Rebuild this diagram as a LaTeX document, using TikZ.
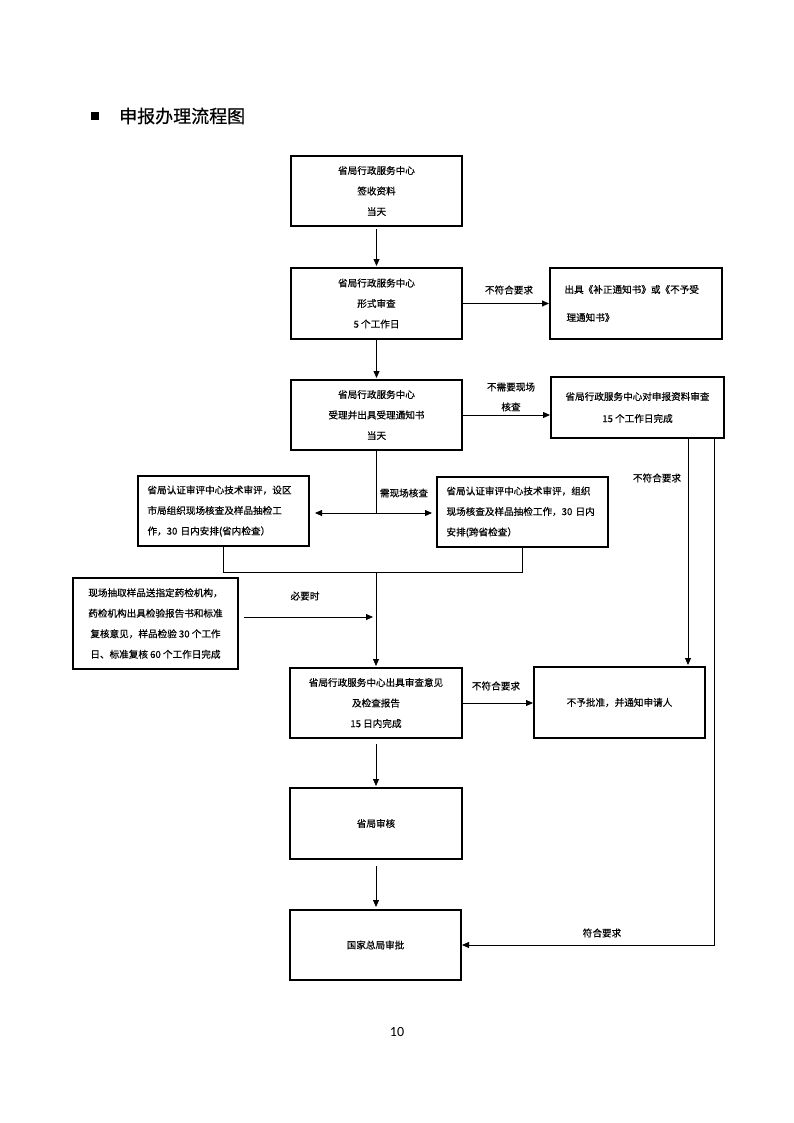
\documentclass[tikz,border=0pt]{standalone}
\usepackage{fontspec}
\setmainfont[FakeBold=0.4]{Noto Sans CJK SC}
\newfontfamily\pgnum{Carlito}
\usetikzlibrary{arrows.meta}
\begin{document}
\begin{tikzpicture}[x=1pt,y=-1pt,
  box/.style={draw, line width=2pt, inner sep=0pt, align=center, font=\fontsize{9.6}{20.5}\selectfont},
  lbl/.style={inner sep=0pt, font=\fontsize{9.6}{20}\selectfont, align=center},
  conn/.style={line width=0.8pt},
  arr/.style={conn, -{Triangle[length=7pt,width=6pt]}}]
\useasboundingbox (0,0) rectangle (794,1123);
\fill[white] (0,0) rectangle (794,1123);
% title
\node[fill=black, minimum size=8pt, inner sep=0pt] (bul) at (95,116) {};
\node[anchor=west, inner sep=0pt, font=\fontsize{18}{18}\selectfont] (title) at (119,116) {申报办理流程图};
% boxes
\node[box, minimum width=171, minimum height=70] (b1) at (376.5,191) {省局行政服务中心\\签收资料\\当天};
\node[box, minimum width=171, minimum height=71] (b2) at (376.5,303.5) {省局行政服务中心\\形式审查\\5 个工作日};
\node[box, minimum width=172, minimum height=71, align=left, text width=145, font=\fontsize{9.6}{28}\selectfont] (b3) at (636,303.5) {\hspace*{1pt}出具《补正通知书》或《不予受\\\hspace*{3pt}理通知书》};
\node[box, minimum width=171, minimum height=70] (b4) at (376.5,415) {省局行政服务中心\\受理并出具受理通知书\\当天};
\node[box, minimum width=173, minimum height=61, font=\fontsize{9.6}{22}\selectfont] (b5) at (637.5,407.5) {省局行政服务中心对申报资料审查\\15 个工作日完成};
\node[box, minimum width=171, minimum height=70, align=left, text width=152, font=\fontsize{9.6}{20.5}\selectfont] (b6) at (223.5,511) {省局认证审评中心技术审评，设区\\市局组织现场核查及样品抽检工\\作，30 日内安排(省内检查）};
\node[box, minimum width=171, minimum height=70, align=left, text width=152, font=\fontsize{9.6}{20.5}\selectfont] (b7) at (522.5,512) {省局认证审评中心技术审评，组织\\现场核查及样品抽检工作，30 日内\\安排(跨省检查）};
\node[box, minimum width=165, minimum height=91] (b9) at (155.5,623.5) {现场抽取样品送指定药检机构，\\药检机构出具检验报告书和标准\\复核意见，样品检验 30 个工作\\日、标准复核 60 个工作日完成};
\node[box, minimum width=172, minimum height=70] (b8) at (376,703) {省局行政服务中心出具审查意见\\及检查报告\\15 日内完成};
\node[box, minimum width=171, minimum height=71] (b10) at (619.5,702.5) {不予批准，并通知申请人};
\node[box, minimum width=172, minimum height=71] (b11) at (376,823.5) {省局审核};
\node[box, minimum width=171, minimum height=70] (b12) at (375.5,945) {国家总局审批};
% labels
\node[lbl] (l1) at (509,290) {不符合要求};
\node[lbl] (l2) at (511,397) {不需要现场\\核查};
\node[lbl] (l3) at (404,493) {需现场核查};
\node[lbl] (l4) at (305,596) {必要时};
\node[lbl] (l5) at (496,686) {不符合要求};
\node[lbl] (l6) at (657,478) {不符合要求};
\node[lbl] (l7) at (602,933) {符合要求};
\node[inner sep=0pt, font=\pgnum\fontsize{14}{14}\selectfont] (pg) at (397,1032) {10};
% connectors
\draw[arr, shorten <=2pt, shorten >=1pt] (b1.south) -- (b2.north);
\draw[arr] (b2.east) -- (b3.west);
\draw[arr, shorten >=1pt] (b2.south) -- (b4.north);
\draw[arr] (b4.east) -- (b4.east -| b5.west);
\coordinate (j1) at (375,513);
\draw[conn] (b4.south) -- (b4.south |- j1);
\draw[conn, {Triangle[length=7pt,width=6pt]}-{Triangle[length=7pt,width=6pt]}, shorten <=5pt, shorten >=4pt] (b6.east |- j1) -- (b7.west |- j1);
\coordinate (m) at (375,572);
\draw[conn] (b6.south) |- (b7.south |- m) -- (b7.south);
\draw[arr, shorten >=1pt] (b8.north |- m) -- (b8.north);
\path ([yshift=6.5pt]b9.east) coordinate (p9);
\draw[arr, shorten <=5pt, shorten >=3pt] (p9) -- (p9 -| b8.north);
\draw[arr] (b8.east) -- (b8.east -| b10.west);
\draw[arr, shorten <=5pt, shorten >=1pt] (b8.south) -- (b11.north);
\draw[arr, shorten <=6pt, shorten >=2pt] (b11.south) -- (b11.south |- b12.north);
\draw[arr, shorten >=1pt] ([xshift=50.5pt]b5.south) -- ([xshift=50.5pt]b5.south |- b10.north);
\path ([xshift=77pt]b5.south) coordinate (r2);
\draw[arr] (r2) -- (r2 |- b12.east) -- (b12.east);
\end{tikzpicture}
\end{document}
